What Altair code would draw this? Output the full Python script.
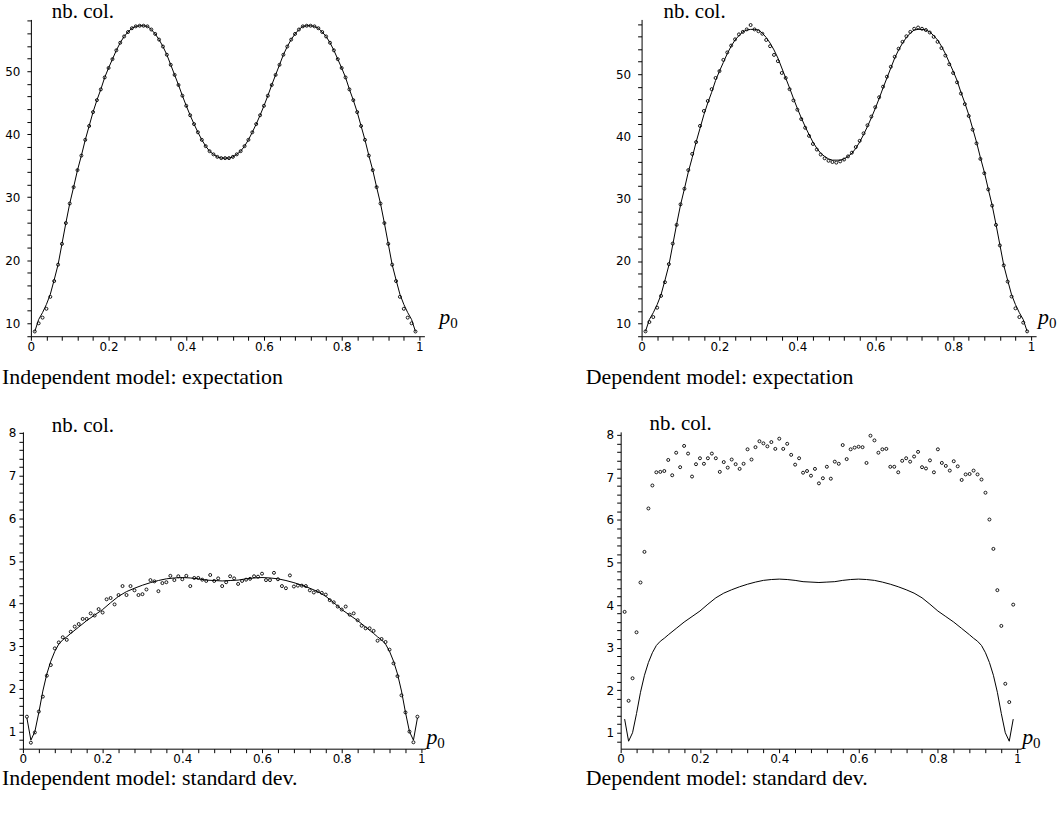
import altair as alt
import pandas as pd

# ---------------- data ----------------
P = [round(0.01 * i, 2) for i in range(1, 100)]

# expectation, theoretical curve
exp_line_v = [8.7, 10.6, 11.7, 13.0, 14.6, 16.9, 19.3, 22.6, 25.9, 29.0,
              31.6, 34.3, 36.6, 39.1, 41.3, 43.5, 45.4, 47.1, 49.0, 50.5,
              51.9, 53.3, 54.5, 55.5, 56.2, 56.8, 57.1, 57.2, 57.2, 57.1,
              56.6, 55.9, 55.0, 53.9, 52.6, 51.0, 49.4, 47.8, 46.1, 44.5,
              43.0, 41.6, 40.3, 39.1, 38.1, 37.3, 36.8, 36.4, 36.2, 36.2,
              36.2, 36.4, 36.8, 37.3, 38.1, 39.1, 40.3, 41.6, 43.0, 44.5,
              46.1, 47.8, 49.4, 51.0, 52.6, 53.9, 55.0, 55.9, 56.6, 57.1,
              57.2, 57.2, 57.1, 56.8, 56.2, 55.5, 54.5, 53.3, 51.9, 50.5,
              49.0, 47.1, 45.4, 43.5, 41.3, 39.1, 36.6, 34.3, 31.6, 29.0,
              25.9, 22.6, 19.3, 16.9, 14.6, 13.0, 11.7, 10.6, 8.7]

# independent model, expectation (simulated points)
ind_exp = [8.7, 10.0, 10.9, 12.3, 14.2, 16.7, 19.3, 22.6, 25.9, 29.0,
           31.6, 34.3, 36.6, 39.1, 41.3, 43.5, 45.4, 47.1, 49.0, 50.5,
           51.9, 53.3, 54.5, 55.5, 56.2, 56.8, 57.1, 57.2, 57.2, 57.1,
           56.6, 55.9, 55.0, 53.9, 52.6, 51.0, 49.4, 47.8, 46.1, 44.5,
           43.0, 41.6, 40.3, 39.1, 38.1, 37.3, 36.8, 36.4, 36.2, 36.2,
           36.2, 36.4, 36.8, 37.3, 38.1, 39.1, 40.3, 41.6, 43.0, 44.5,
           46.1, 47.8, 49.4, 51.0, 52.6, 53.9, 55.0, 55.9, 56.6, 57.1,
           57.2, 57.2, 57.1, 56.8, 56.2, 55.5, 54.5, 53.3, 51.9, 50.5,
           49.0, 47.1, 45.4, 43.5, 41.3, 39.1, 36.6, 34.3, 31.6, 29.0,
           25.9, 22.6, 19.3, 16.7, 14.2, 12.3, 10.9, 10.0, 8.7]

# dependent model, expectation (simulated points)
dep_exp = [8.7, 10.2, 11.0, 12.5, 14.4, 16.6, 19.5, 22.8, 25.8, 29.1,
           31.6, 34.6, 37.2, 39.1, 41.7, 44.1, 45.7, 47.6, 49.4, 50.5,
           52.3, 53.5, 54.6, 55.6, 56.4, 56.8, 57.2, 57.9, 57.2, 56.9,
           56.5, 55.5, 54.5, 53.1, 52.1, 50.2, 49.4, 47.6, 45.8, 44.3,
           42.8, 41.4, 40.1, 38.8, 37.9, 37.1, 36.5, 36.1, 35.9, 35.8,
           36.0, 36.3, 36.8, 37.4, 38.3, 39.3, 40.5, 41.8, 43.2, 44.7,
           46.3, 48.0, 49.6, 51.2, 52.8, 54.1, 55.2, 56.1, 56.8, 57.3,
           57.5, 57.3, 57.1, 56.7, 56.0, 55.2, 54.2, 53.0, 51.6, 50.2,
           48.7, 46.9, 45.2, 43.3, 41.1, 38.9, 36.4, 34.1, 31.5, 28.9,
           25.8, 22.5, 19.3, 16.7, 14.3, 12.4, 11.0, 10.1, 8.7]

# standard deviation, theoretical curve
sd_line_p = [0.01, 0.02, 0.03, 0.04, 0.05, 0.06, 0.07, 0.08, 0.09, 0.10,
             0.11, 0.12, 0.14, 0.16, 0.18, 0.20, 0.22, 0.24, 0.26, 0.28,
             0.30, 0.32, 0.34, 0.36, 0.38, 0.40, 0.42, 0.44, 0.46, 0.48,
             0.50, 0.52, 0.54, 0.56, 0.58, 0.60, 0.62, 0.64, 0.66, 0.68,
             0.70, 0.72, 0.74, 0.76, 0.78, 0.80, 0.82, 0.84, 0.86, 0.88,
             0.89, 0.90, 0.91, 0.92, 0.93, 0.94, 0.95, 0.96, 0.97, 0.98, 0.99]
sd_line_v = [1.32, 0.80, 1.00, 1.45, 1.95, 2.35, 2.65, 2.88, 3.05, 3.15,
             3.22, 3.30, 3.45, 3.60, 3.73, 3.86, 4.02, 4.17, 4.28, 4.36,
             4.43, 4.49, 4.54, 4.58, 4.60, 4.61, 4.60, 4.58, 4.55, 4.54,
             4.53, 4.54, 4.55, 4.58, 4.60, 4.61, 4.60, 4.58, 4.54, 4.49,
             4.43, 4.36, 4.28, 4.17, 4.02, 3.86, 3.73, 3.60, 3.45, 3.30,
             3.22, 3.15, 3.05, 2.88, 2.65, 2.35, 1.95, 1.45, 1.00, 0.80, 1.32]

# independent model, standard deviation (simulated points)
ind_sd = [1.35, 0.74, 0.98, 1.47, 1.82, 2.31, 2.56, 2.95, 3.09, 3.21,
          3.15, 3.34, 3.46, 3.52, 3.64, 3.64, 3.77, 3.72, 3.87, 3.79,
          4.10, 4.13, 3.98, 4.20, 4.41, 4.20, 4.41, 4.31, 4.20, 4.22,
          4.33, 4.55, 4.52, 4.29, 4.48, 4.50, 4.65, 4.55, 4.64, 4.57,
          4.65, 4.41, 4.60, 4.60, 4.56, 4.53, 4.67, 4.53, 4.59, 4.41,
          4.50, 4.64, 4.59, 4.46, 4.53, 4.56, 4.58, 4.64, 4.63, 4.70,
          4.55, 4.55, 4.72, 4.57, 4.41, 4.36, 4.66, 4.40, 4.42, 4.42,
          4.41, 4.31, 4.26, 4.29, 4.25, 4.21, 4.08, 4.03, 3.93, 3.86,
          3.93, 3.74, 3.77, 3.61, 3.48, 3.42, 3.42, 3.36, 3.13, 3.17,
          3.10, 2.92, 2.60, 2.30, 1.85, 1.45, 1.00, 0.75, 1.35]

# dependent model, standard deviation (simulated points)
dep_sd = [3.84, 1.75, 2.28, 3.36, 4.53, 5.25, 6.27, 6.81, 7.12, 7.13,
          7.15, 7.41, 7.05, 7.58, 7.24, 7.74, 7.56, 7.02, 7.31, 7.45,
          7.32, 7.45, 7.56, 7.45, 7.13, 7.36, 7.23, 7.42, 7.31, 7.20,
          7.32, 7.66, 7.42, 7.71, 7.85, 7.80, 7.73, 7.83, 7.67, 7.91,
          7.67, 7.79, 7.53, 7.30, 7.45, 7.11, 7.15, 7.04, 7.20, 6.86,
          6.98, 7.25, 6.97, 7.37, 7.32, 7.76, 7.43, 7.66, 7.70, 7.72,
          7.71, 7.34, 7.98, 7.87, 7.58, 7.66, 7.67, 7.25, 7.25, 7.12,
          7.39, 7.45, 7.37, 7.49, 7.60, 7.24, 7.21, 7.40, 7.12, 7.66,
          7.34, 7.27, 7.16, 7.38, 7.26, 6.94, 7.07, 7.08, 7.16, 7.07,
          6.95, 6.64, 6.01, 5.32, 4.35, 3.51, 2.15, 1.72, 4.01]

X_TICKS = [round(0.04 * i, 2) for i in range(26)]
Y_TICKS_EXP = list(range(8, 59, 2))
Y_TICKS_SD = [round(0.6 + 0.2 * i, 1) for i in range(38)]

CAPTIONS = ["Independent model: expectation", "Dependent model: expectation",
            "Independent model: standard dev.", "Dependent model: standard dev."]

H = 318
SERIF = "Liberation Serif"
SANS = "DejaVu Sans"


def text_layer(txt, x, y, size, style="normal"):
    return alt.Chart(pd.DataFrame({"t": [txt]})).mark_text(
        font=SERIF, fontSize=size, fontStyle=style, align="left",
        baseline="alphabetic", color="black"
    ).encode(x=alt.value(x), y=alt.value(y), text="t:N")


def panel(points, line_p, line_v, xmax, width, ydom, yticks, ystep, ypad,
          caption, cap_x, cap_y, nb_x, nb_y, p_x, p_y):
    pts = pd.DataFrame({"p": P, "v": points})
    ln = pd.DataFrame({"p": line_p, "v": line_v})
    xaxis = alt.Axis(
        values=X_TICKS,
        labelExpr="abs(datum.value*5-round(datum.value*5))<0.001 ? format(datum.value,'.1~f') : ''",
        tickSize=4, tickColor="black", domainColor="black", labelColor="black",
        labelFont=SANS, labelFontSize=12, labelPadding=1, grid=False, title=None,
        labelFlush=False, labelOverlap=False)
    yaxis = alt.Axis(
        values=yticks,
        labelExpr=f"abs(datum.value/{ystep}-round(datum.value/{ystep}))<0.001 ? format(datum.value,'d') : ''",
        tickSize=4, tickColor="black", domainColor="black", labelColor="black",
        labelFont=SANS, labelFontSize=12, labelPadding=ypad, grid=False, title=None,
        labelFlush=False, labelOverlap=False)
    x = alt.X("p:Q", scale=alt.Scale(domain=[0, xmax], nice=False, zero=False), axis=xaxis)
    y = alt.Y("v:Q", scale=alt.Scale(domain=ydom, nice=False, zero=False), axis=yaxis)
    line = alt.Chart(ln).mark_line(color="black", strokeWidth=1).encode(x=x, y=y)
    dots = alt.Chart(pts).mark_point(shape="circle", filled=False, size=9,
                                     strokeWidth=0.9, color="black", opacity=1).encode(x=x, y=y)
    layers = [line, dots,
              text_layer("nb. col.", nb_x, nb_y, 21),
              text_layer("p", p_x, p_y, 22, style="italic"),
              text_layer("0", p_x + 11, p_y + 4, 15),
              text_layer(caption, cap_x, cap_y, 22)]
    return alt.layer(*layers).properties(width=width, height=H)


def spacer(w):
    return alt.Chart(pd.DataFrame({"a": [0]})).mark_point(opacity=0).encode(
        x=alt.X("a:Q", axis=None), y=alt.Y("a:Q", axis=None)
    ).properties(width=w, height=H)


tl = panel(ind_exp, P, exp_line_v, 1.013, 395, [7.95, 58.2], Y_TICKS_EXP, 10, 7,
           CAPTIONS[0], -29, H + 48, 21, -1, 395 + 15, H - 12)
tr = panel(dep_exp, P, exp_line_v, 1.013, 396, [7.92, 58.8], Y_TICKS_EXP, 10, 7,
           CAPTIONS[1], -56, H + 48, 22, -1, 396 + 2, H - 12)
bl = panel(ind_sd, sd_line_p, sd_line_v, 1.01, 404, [0.6, 8.023], Y_TICKS_SD, 1, 3,
           CAPTIONS[2], -21, H + 36, 29, 0, 404 + 1, H - 5)
br = panel(dep_sd, sd_line_p, sd_line_v, 1.01, 402, [0.625, 8.07], Y_TICKS_SD, 1, 3,
           CAPTIONS[3], -35, H + 36, 29, -2, 402 + 1, H - 5)

row1 = alt.hconcat(spacer(4), tl, spacer(210), tr, spacing=4, bounds="flush")
row2 = alt.hconcat(bl, br, spacing=196, bounds="flush")

# rows have zero flush height, so the spacing is the full row pitch
chart = alt.vconcat(row1, row2, spacing=H + 96, bounds="flush").properties(
    background="white",
    padding={"left": 2, "top": 0, "right": 5, "bottom": 5},
).configure_view(stroke=None)

chart.save("out.html", embed_options={"renderer": "svg", "actions": False})
